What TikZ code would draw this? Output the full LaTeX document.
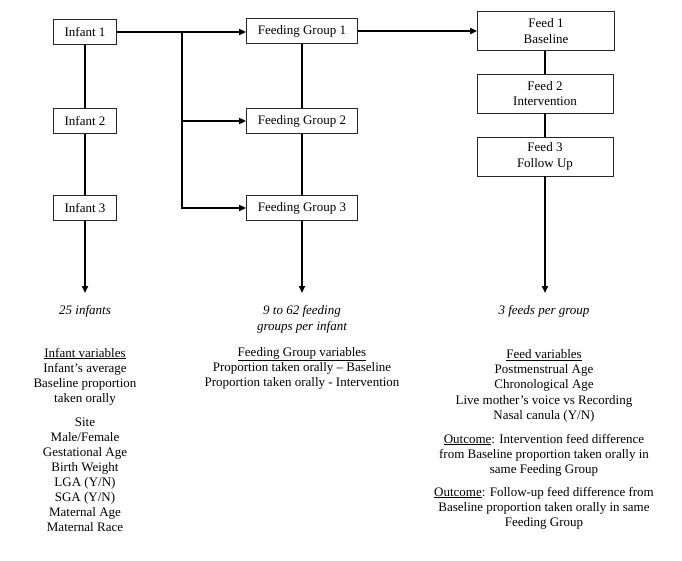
\documentclass[tikz,border=0pt]{standalone}
\usepackage{fontspec}
\setmainfont{Liberation Serif}
\usetikzlibrary{arrows.meta}
\begin{document}
\begin{tikzpicture}[x=1pt,y=-1pt,
 box/.style={draw=black!85, line width=0.8pt, inner sep=0pt, align=center, font=\fontsize{13}{15.5}\selectfont},
 conn/.style={line width=1.9pt},
 arr/.style={conn,-{Triangle[length=7pt,width=6pt]}},
 lbl/.style={inner sep=0pt, align=center, font=\fontsize{13}{15.2}\selectfont, anchor=base}
]
\useasboundingbox (0,0) rectangle (682,560);
% boxes
\node[box, minimum width=63pt, minimum height=25pt] (i1) at (85,32) {Infant 1};
\node[box, minimum width=63pt, minimum height=25pt] (i2) at (85,121) {Infant 2};
\node[box, minimum width=63pt, minimum height=25pt] (i3) at (85,208) {Infant 3};
\node[box, minimum width=111pt, minimum height=25pt] (g1) at (302,31) {Feeding Group 1};
\node[box, minimum width=111pt, minimum height=25pt] (g2) at (302,121) {Feeding Group 2};
\node[box, minimum width=111pt, minimum height=25pt] (g3) at (302,208) {Feeding Group 3};
\node[box, minimum width=137pt, minimum height=39pt] (f1) at (546,31) {Feed 1\\Baseline};
\node[box, minimum width=136pt, minimum height=39pt] (f2) at (545,93.5) {Feed 2\\Intervention};
\node[box, minimum width=136pt, minimum height=39pt] (f3) at (545,156.5) {Feed 3\\Follow Up};
% end points
\coordinate (ie) at (85,293);
\coordinate (ge) at (302,293);
\coordinate (fe) at (545,293);
\coordinate (br) at (182,32);
% connectors
\draw[conn] (i1) -- (i2);
\draw[conn] (i2) -- (i3);
\draw[arr] (i3) -- (ie);
\draw[conn] (g1) -- (g2);
\draw[conn] (g2) -- (g3);
\draw[arr] (g3) -- (ge);
\draw[conn] (f1.south -| f2) -- (f2);
\draw[conn] (f2) -- (f3);
\draw[arr] (f3) -- (fe);
\draw[arr] (i1.east) -- (i1.east -| g1.west);
\draw[arr] (br) |- (g3.west);
\draw[arr] (br |- g2.west) -- (g2.west);
\draw[arr] (g1.east) -- (g1.east -| f1.west);
% labels (base anchor = baseline of last line)
\node[lbl, font=\fontsize{13}{15.8}\selectfont\itshape] (t1) at (85,314.5) {25 infants};
\node[lbl, font=\fontsize{13}{15.8}\selectfont\itshape] (t2) at (302,330.5) {9 to 62 feeding\\groups per infant};
\node[lbl, font=\fontsize{13}{15.8}\selectfont\itshape] (t3) at (544,314.5) {3 feeds per group};
\node[lbl, font=\fontsize{13}{15}\selectfont] (v1) at (85,531.5) {\underline{Infant variables}\\Infant’s average\\Baseline proportion\\taken orally\\[9.5pt]Site\\Male/Female\\Gestational Age\\Birth Weight\\LGA (Y/N)\\SGA (Y/N)\\Maternal Age\\Maternal Race};
\node[lbl] (v2) at (302,386.5) {\underline{Feeding Group variables}\\Proportion taken orally – Baseline\\Proportion taken orally - Intervention};
\node[lbl] (v3) at (544,526.5) {\underline{Feed variables}\\Postmenstrual Age\\Chronological Age\\Live mother’s voice vs Recording\\Nasal canula (Y/N)\\[8.5pt]\underline{Outcome}: Intervention feed difference\\from Baseline proportion taken orally in\\same Feeding Group\\[7.5pt]\underline{Outcome}: Follow-up feed difference from\\Baseline proportion taken orally in same\\Feeding Group};
\end{tikzpicture}
\end{document}
